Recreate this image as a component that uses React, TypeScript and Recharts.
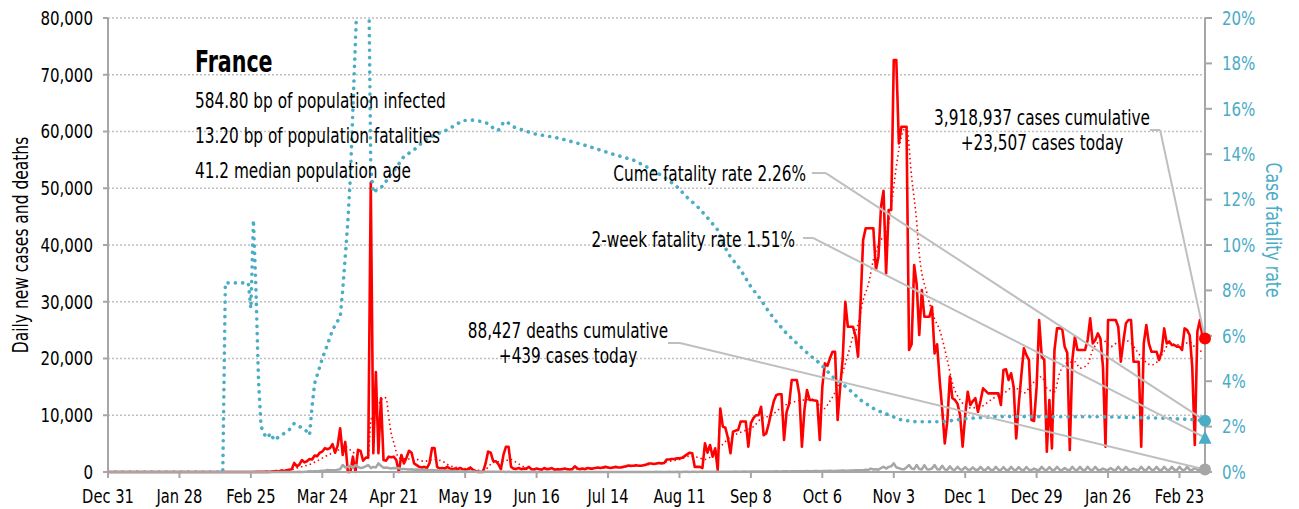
import React from 'react';
import { ComposedChart, Line, XAxis, YAxis, CartesianGrid, ReferenceLine, ReferenceDot } from 'recharts';

// ---------- data (day index 0 = Dec 31, 2019) ----------
const tickLabels = ["Dec 31","Jan 28","Feb 25","Mar 24","Apr 21","May 19","Jun 16","Jul 14","Aug 11","Sep 8","Oct 6","Nov 3","Dec 1","Dec 29","Jan 26","Feb 23"];
const tickDays = [0,28,56,84,112,140,168,196,224,252,280,308,336,364,392,420];
const leftTicks = [0,10000,20000,30000,40000,50000,60000,70000,80000];
const rightTicks = [0,2,4,6,8,10,12,14,16,18,20];

const dailyCases = [
0,0,0,0,0,0,0,0,0,0,
0,0,0,0,0,0,0,0,0,0,
0,0,0,0,3,0,0,0,0,1,
0,0,1,0,0,0,0,0,0,5,
0,0,0,0,0,0,1,0,0,0,
0,0,0,0,0,0,2,4,20,19,
43,30,61,21,73,138,190,92,296,177,
300,400,500,1600,1000,1300,2100,1700,1900,2300,
2200,2900,2800,3400,3600,4200,4000,4200,4900,3400,
4600,7700,3000,5300,0,0,2700,0,3900,3700,
2000,2500,2500,51000,3300,17600,3300,13000,2100,2000,
2700,2600,2700,2100,0,3000,1500,2500,3750,3400,
1500,1200,900,800,900,700,1500,4200,4200,900,
600,700,600,900,600,500,600,500,700,500,
400,500,800,400,200,0,0,0,1500,3600,
3400,1900,1900,1400,500,3000,4460,4460,900,600,
550,700,500,600,600,900,500,450,600,500,
400,700,500,550,700,400,500,450,500,600,
500,450,500,1000,600,500,600,500,700,600,
600,700,800,700,800,900,800,700,800,900,
800,800,900,1000,1150,1100,1100,1200,1100,1100,
1200,1300,1500,1500,1400,1500,1600,1500,1600,2200,
2200,2300,2300,2400,2400,2500,2800,3100,3400,3300,
900,900,900,700,5050,3400,4760,2700,4170,350,
11200,8000,7800,6000,3300,7100,7300,7400,8900,8900,
8900,4460,8600,9500,10000,10000,11500,6500,6800,8500,
10600,12500,13570,13700,13700,5640,10600,12000,16200,16200,
16200,13600,4460,11000,14450,12700,12700,12600,12500,5640,
15000,19150,18700,20030,21200,21200,9160,15000,20000,30000,
25600,25600,25600,24000,20300,30000,40900,42950,42950,42950,
42950,35600,37950,46750,49570,35000,46170,46170,72600,72600,
57900,60840,60840,60840,21500,22500,36475,33000,24140,32070,
27370,27370,27370,29130,20900,22500,16200,11000,5050,9000,
16800,13000,12700,12000,10000,4460,10000,14150,11800,12500,
13000,10600,12500,14740,14300,13860,13860,13860,13860,13860,
11800,17970,18100,16200,17400,15000,5930,12000,17000,21800,
20600,19700,9160,9000,15000,26780,20320,19730,3580,12700,
4170,21500,25300,25300,25300,22080,21000,3880,19730,23840,
21500,21500,21500,21500,23260,27070,22670,23260,24430,23500,
18560,4460,26780,26780,26780,26780,25600,19440,23000,26200,
26780,26780,19440,19440,19440,4460,22670,25900,22670,21200,
21200,21200,19730,21200,25300,22670,23000,22380,22380,22080,
22080,21500,25300,25000,24100,18560,4760,24700,26780,23840,
23507
];

const dailyDeaths = [
0,0,0,0,0,0,0,0,0,0,
0,0,0,0,0,0,0,0,0,0,
0,0,0,0,0,0,0,0,0,0,
0,0,0,0,0,0,0,0,0,0,
0,0,0,0,0,0,1,0,0,0,
0,0,0,0,0,0,0,1,0,1,
0,1,0,2,0,4,1,2,0,3,
11,9,14,18,12,36,21,27,69,128,
78,112,112,186,240,231,365,299,319,292,
418,499,1230,800,900,1100,700,1230,900,700,
800,1000,1230,700,900,800,1530,1100,760,800,
700,600,700,650,700,500,550,500,450,500,
400,450,400,350,400,350,300,350,300,250,
300,250,200,250,200,150,200,150,100,120,
100,90,80,100,70,60,80,50,60,40,
50,40,30,40,30,30,20,30,20,20,
25,15,20,30,15,20,25,15,10,20,
15,20,25,10,15,20,15,10,20,15,
10,15,20,10,15,12,10,20,15,10,
12,15,10,20,12,10,15,12,10,15,
12,15,10,15,20,12,10,15,12,20,
15,12,20,15,10,25,15,20,12,20,
25,15,20,30,15,20,25,30,20,25,
30,20,25,35,30,25,40,35,30,40,
45,40,50,60,45,55,70,50,60,80,
70,60,80,90,70,80,100,90,80,110,
100,90,120,110,100,130,120,110,140,130,
120,150,140,130,160,150,140,170,160,150,
180,170,160,200,190,180,220,210,250,240,
230,280,260,300,290,320,300,400,350,600,
450,500,400,
700,930,600,900,1000,1530,800,
700,500,470,800,1230,600,500,
1230,520,460,1200,500,450,620,
1230,500,450,1100,460,400,1000,
450,400,920,450,400,850,420,
380,820,400,380,900,410,350,
860,380,350,900,400,350,850,
380,330,900,400,360,850,380,
330,880,400,350,600,380,330,
900,420,350,860,380,340,920,
400,350,700,380,330,930,400,
350,900,380,330,930,400,350,
900,380,330,600,400,350,700,
380,330,930,400,350,900,380,
330,600,400,350,930,380,330,
930,400,350,900,380,330,930,
400,350,900,380,330,930,400,
350,900,380,330,700,400,350,
800,439
];

// 7-day average of cases: [day, value]
const avgDays = [0,60,66,70,75,80,85,90,93,96,100,102,103,105,107,108,109,110,111,112,114,117,120,124,128,131,134,140,145,148,151,155,158,160,163,166,180,190,200,208,215,220,224,228,231,234,237,240,243,248,253,256,260,264,267,270,273,277,280,283,286,290,292,294,296,298,300,303,305,307,309,311,313,315,317,318,321,324,326,329,331,334,338,342,347,351,355,359,362,366,368,371,373,376,379,381,384,386,390,393,396,398,401,403,406,409,411,414,416,419,422,424,427,430];
const avgValues = [0,30,120,250,800,1500,2700,3800,4460,3500,2700,2600,9000,11000,12600,13160,13000,9800,6800,5200,2500,2300,2300,1900,2200,1900,1100,600,300,500,1700,1900,2200,1700,900,500,550,650,850,1100,1500,1900,2200,2800,2600,2200,3000,4400,5800,7000,8000,9400,10000,11400,12100,12500,12700,12800,11000,12500,15000,20600,23840,26000,30300,33000,37350,40880,42100,46750,53800,59100,60800,52000,44000,38500,31500,27000,25000,19700,15700,12700,11300,11500,13000,13800,15000,13900,15400,16800,14800,14150,17400,19200,19440,18300,19000,21500,23260,22080,22960,23260,22700,21500,19730,18850,19300,21300,22670,22400,22600,22900,21500,21200];

// Case fatality rate (%): [day, value]
const cfrDays = [0,45,46,55,56,57,58,59,60,62,64,65,69,71,73,75,77,79,80,81,84,86,88,91,92,93,94,95,96,97,98,99,101,102,103,104,105,106,108,110,113,116,120,124,128,133,139,143,146,149,151,153,155,156,159,163,167,177,188,198,206,211,218,223,227,231,235,239,243,248,252,256,259,262,266,270,275,279,284,290,295,301,303,307,311,316,324,329,337,348,358,390,410,424,430];
const cfrValues = [0,0,8.33,8.33,7.2,11.1,8.0,4.0,2.0,1.5,1.7,1.4,1.7,1.85,2.14,2.0,1.9,1.63,2.9,3.9,5.0,5.6,6.26,6.84,8.0,9.5,11.0,13.0,16.0,19.0,22,24,24,24,13.4,12.3,12.4,12.5,12.6,13.0,13.4,13.9,14.2,14.6,14.85,15.07,15.48,15.5,15.45,15.35,15.15,15.05,15.4,15.45,15.2,15.05,14.9,14.7,14.36,14.0,13.74,13.45,13.0,12.57,12.1,11.7,11.2,10.66,9.63,8.9,8.16,7.58,7.06,6.62,6.1,5.67,5.15,4.79,4.2,3.69,3.17,2.73,2.65,2.47,2.29,2.22,2.21,2.24,2.36,2.44,2.44,2.43,2.38,2.32,2.26];

// latest values
const lastDay = 430;
const cumCases = "3,918,937";
const todayCases = 23507;
const cumDeaths = "88,427";
const todayDeaths = 439;
const cumeCfr = 2.26;
const twoWeekCfr = 1.51;

// ---------- styles ----------
const FONT = "'DejaVu Sans Condensed', 'Liberation Sans Narrow', sans-serif";
const RED = '#FF0000';
const TEAL = '#4BACC6';
const GRAY = '#A6A6A6';
const LEADER = '#BFBFBF';
const SX = 0.83; // horizontal condensing of text

const casesData = dailyCases.map((v, i) => ({ day: i, v }));
const deathsData = dailyDeaths.map((v, i) => ({ day: i, v }));
const avgData = avgDays.map((d, i) => ({ day: d, v: avgValues[i] }));
const cfrData = cfrDays.map((d, i) => ({ day: d, v: cfrValues[i] }));

const Triangle = (props: any) => {
  const { cx, cy } = props;
  if (cx == null || cy == null) return null;
  return <polygon points={`${cx},${cy - 7} ${cx - 6.5},${cy + 6} ${cx + 6.5},${cy + 6}`} fill={TEAL} />;
};

const XTick = (props: any) => {
  const { x, y, payload } = props;
  const label = tickLabels[tickDays.indexOf(payload.value)] ?? '';
  return (
    <text transform={`translate(${x},${y}) scale(0.86,1)`} textAnchor="middle" dy="0.71em" fontFamily={FONT} fontSize={19} fill="#000">{label}</text>
  );
};
const LTick = (props: any) => {
  const { x, y, payload } = props;
  return (
    <text transform={`translate(${x},${y}) scale(0.88,1)`} textAnchor="end" dy="0.36em" fontFamily={FONT} fontSize={19} fill="#000">{Number(payload.value).toLocaleString('en-US')}</text>
  );
};
const RTick = (props: any) => {
  const { x, y, payload } = props;
  return (
    <text transform={`translate(${x},${y}) scale(0.88,1)`} textAnchor="start" dy="0.36em" fontFamily={FONT} fontSize={19} fill={TEAL}>{`${payload.value}%`}</text>
  );
};

const T = ({ x, y, size = 20.5, anchor = 'start', weight = 'normal', sx = SX, children, fill = '#000' }: any) => (
  <text transform={`translate(${x},${y}) scale(${sx},1)`} textAnchor={anchor} fontSize={size} fontWeight={weight} fontFamily={FONT} fill={fill}>{children}</text>
);

export default function App() {
  const W = 1299, H = 509;
  return (
    <div style={{ position: 'relative', width: W, height: H, margin: '-8px 0 0 -8px', fontFamily: FONT }}>
      <ComposedChart width={W} height={H} margin={{ top: 18, right: 0, bottom: 7, left: 0 }}>
        <CartesianGrid yAxisId="left" vertical={false} stroke="#BFBFBF" strokeWidth={1.3} strokeDasharray="2 2" />
        <XAxis
          dataKey="day" type="number" domain={[0, lastDay]} ticks={tickDays}
          height={30} tickSize={6} tickMargin={11}
          axisLine={{ stroke: GRAY, strokeWidth: 2 }} tickLine={{ stroke: GRAY, strokeWidth: 2 }}
          tick={<XTick />} interval={0} allowDataOverflow
        />
        <YAxis
          yAxisId="left" width={108} domain={[0, 80000]} ticks={leftTicks} interval={0}
          tickSize={5} tickMargin={10}
          axisLine={{ stroke: GRAY, strokeWidth: 2 }} tickLine={{ stroke: GRAY, strokeWidth: 2 }}
          tick={<LTick />}
        />
        <YAxis
          yAxisId="right" orientation="right" width={94} domain={[0, 20]} ticks={rightTicks} interval={0}
          allowDataOverflow
          tickSize={7} tickMargin={10}
          axisLine={{ stroke: GRAY, strokeWidth: 2 }} tickLine={{ stroke: GRAY, strokeWidth: 2 }}
          tick={<RTick />}
        />
        <Line yAxisId="left" data={casesData} dataKey="v" type="linear" stroke={RED} strokeWidth={2.6} dot={false} isAnimationActive={false} strokeLinejoin="round" />
        <Line yAxisId="left" data={avgData} dataKey="v" type="monotone" stroke={RED} strokeWidth={1.6} strokeDasharray="1.5 3" dot={false} isAnimationActive={false} />
        <Line yAxisId="left" data={deathsData} dataKey="v" type="linear" stroke={GRAY} strokeWidth={2.5} dot={false} isAnimationActive={false} strokeLinejoin="round" />
        <Line yAxisId="right" data={cfrData} dataKey="v" type="linear" stroke={TEAL} strokeWidth={3.6} strokeDasharray="0.1 7.2" strokeLinecap="round" dot={false} isAnimationActive={false} />

        {/* leader lines */}
        <ReferenceLine yAxisId="left" segment={[{ x: 408.4, y: 60264 }, { x: 412.4, y: 60264 }]} stroke={LEADER} strokeWidth={2} />
        <ReferenceLine yAxisId="left" segment={[{ x: 412.4, y: 60264 }, { x: lastDay, y: todayCases }]} stroke={LEADER} strokeWidth={2} />
        <ReferenceLine yAxisId="right" segment={[{ x: 275.9, y: 13.17 }, { x: 281.4, y: 13.17 }]} stroke={LEADER} strokeWidth={2} />
        <ReferenceLine yAxisId="right" segment={[{ x: 281.4, y: 13.17 }, { x: lastDay, y: cumeCfr }]} stroke={LEADER} strokeWidth={2} />
        <ReferenceLine yAxisId="right" segment={[{ x: 272.4, y: 10.31 }, { x: 276.3, y: 10.31 }]} stroke={LEADER} strokeWidth={2} />
        <ReferenceLine yAxisId="right" segment={[{ x: 276.3, y: 10.31 }, { x: lastDay, y: twoWeekCfr }]} stroke={LEADER} strokeWidth={2} />
        <ReferenceLine yAxisId="left" segment={[{ x: 219.5, y: 22731 }, { x: 224.2, y: 22731 }]} stroke={LEADER} strokeWidth={2} />
        <ReferenceLine yAxisId="left" segment={[{ x: 224.2, y: 22731 }, { x: lastDay, y: todayDeaths }]} stroke={LEADER} strokeWidth={2} />

        {/* end markers */}
        <ReferenceDot yAxisId="left" x={lastDay} y={todayCases} r={6} fill={RED} stroke="none" />
        <ReferenceDot yAxisId="right" x={lastDay} y={cumeCfr} r={6} fill={TEAL} stroke="none" />
        <ReferenceDot yAxisId="right" x={lastDay} y={twoWeekCfr} r={6} fill={TEAL} stroke="none" shape={Triangle} />
        <ReferenceDot yAxisId="left" x={lastDay} y={todayDeaths} r={6} fill={GRAY} stroke="none" />
      </ComposedChart>

      <svg width={W} height={H} style={{ position: 'absolute', left: 0, top: 0, pointerEvents: 'none' }}>
        <T x={195} y={72} size={31} weight="bold" sx={0.74}>France</T>
        <T x={195} y={108}>584.80 bp of population infected</T>
        <T x={195} y={143}>13.20 bp of population fatalities</T>
        <T x={195} y={178}>41.2 median population age</T>

        <T x={1042} y={125} anchor="middle">{cumCases} cases cumulative</T>
        <T x={1042} y={150} anchor="middle">+{todayCases.toLocaleString('en-US')} cases today</T>
        <T x={806} y={181} anchor="end">Cume fatality rate {cumeCfr.toFixed(2)}%</T>
        <T x={795} y={247} anchor="end">2-week fatality rate {twoWeekCfr.toFixed(2)}%</T>
        <T x={568} y={338} anchor="middle">{cumDeaths} deaths cumulative</T>
        <T x={568} y={363} anchor="middle">+{todayDeaths} cases today</T>

        <text transform="translate(27.5,245) rotate(-90) scale(0.82,1)" fontSize={21} textAnchor="middle" fontFamily={FONT} fill="#000">Daily new cases and deaths</text>
        <text transform="translate(1266,230) rotate(90) scale(0.83,1)" fontSize={21} textAnchor="middle" fontFamily={FONT} fill={TEAL}>Case fatality rate</text>
      </svg>
    </div>
  );
}
